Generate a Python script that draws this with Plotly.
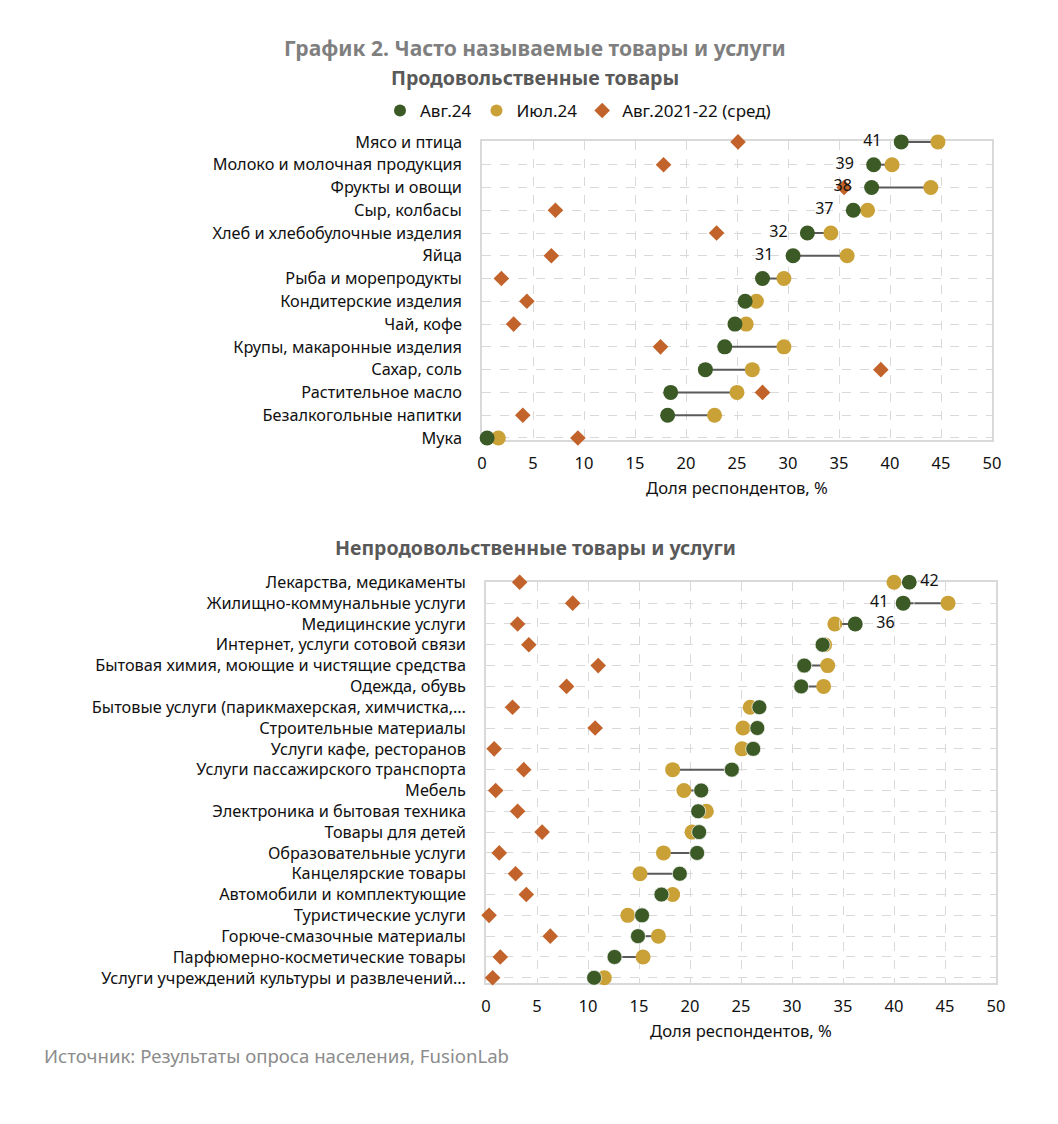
import plotly.graph_objects as go

# ---------- Data ----------
food_cats = ["Мясо и птица", "Молоко и молочная продукция", "Фрукты и овощи", "Сыр, колбасы",
             "Хлеб и хлебобулочные изделия", "Яйца", "Рыба и морепродукты", "Кондитерские изделия",
             "Чай, кофе", "Крупы, макаронные изделия", "Сахар, соль", "Растительное масло",
             "Безалкогольные напитки", "Мука"]
food_aug24 = [41.1, 38.4, 38.2, 36.4, 31.9, 30.5, 27.5, 25.8, 24.8, 23.8, 21.9, 18.5, 18.2, 0.5]
food_jul24 = [44.7, 40.2, 44.0, 37.8, 34.2, 35.8, 29.6, 26.9, 25.9, 29.6, 26.5, 25.0, 22.8, 1.6]
food_avg = [25.1, 17.8, 35.5, 7.2, 23.0, 6.8, 1.9, 4.4, 3.1, 17.5, 39.1, 27.5, 4.0, 9.4]
food_labels = ["41", "39", "38", "37", "32", "31", "", "", "", "", "", "", "", ""]

nonfood_cats = ["Лекарства, медикаменты", "Жилищно-коммунальные услуги", "Медицинские услуги",
                "Интернет, услуги сотовой связи", "Бытовая химия, моющие и чистящие средства",
                "Одежда, обувь", "Бытовые услуги (парикмахерская, химчистка,…",
                "Строительные материалы", "Услуги кафе, ресторанов", "Услуги пассажирского транспорта",
                "Мебель", "Электроника и бытовая техника", "Товары для детей", "Образовательные услуги",
                "Канцелярские товары", "Автомобили и комплектующие", "Туристические услуги",
                "Горюче-смазочные материалы", "Парфюмерно-косметические товары",
                "Услуги учреждений культуры и развлечений…"]
nonfood_aug24 = [41.5, 40.9, 36.2, 33.0, 31.2, 30.9, 26.8, 26.6, 26.2, 24.1, 21.1, 20.8, 20.9, 20.7,
                 19.0, 17.2, 15.3, 14.9, 12.6, 10.6]
nonfood_jul24 = [40.0, 45.3, 34.2, 33.2, 33.5, 33.1, 25.9, 25.2, 25.1, 18.3, 19.4, 21.6, 20.2, 17.4,
                 15.1, 18.3, 13.9, 16.9, 15.4, 11.6]
nonfood_avg = [3.3, 8.5, 3.1, 4.2, 11.0, 7.9, 2.6, 10.7, 0.8, 3.7, 0.95, 3.1, 5.5, 1.3, 2.9, 3.95,
               0.3, 6.3, 1.4, 0.65]
nonfood_labels = ["42", "41", "36"] + [""] * 17

series_names = ["Авг.24", "Июл.24", "Авг.2021-22 (сред)"]
x_ticks = [0, 5, 10, 15, 20, 25, 30, 35, 40, 45, 50]

# ---------- Styles ----------
GREEN = "#3b5a26"
YELLOW = "#c9a136"
ORANGE = "#c2632b"
CONN = "#5a5a5a"
GRID = "#d9d9d9"
FONT = "Noto Sans"

OFF = 8  # page body margin
W, H = 1058 - 2 * OFF, 1124 - 2 * OFF


def fx(px):
    return (px - OFF) / W


def fy(px):
    return 1 - (px - OFF) / H


fig = go.Figure()


def add_panel(cats, g, yv, d, labels, lpos, lsize, xa, ya, legend):
    cx, cy = [], []
    for c, a, b in zip(cats, g, yv):
        cx += [a, b, None]
        cy += [c, c, None]
    fig.add_trace(go.Scatter(x=cx, y=cy, mode="lines", line=dict(color=CONN, width=2),
                             showlegend=False, hoverinfo="skip", xaxis=xa, yaxis=ya,
                             cliponaxis=False))
    fig.add_trace(go.Scatter(x=d, y=cats, mode="markers", name=series_names[2],
                             marker=dict(symbol="diamond", size=12, color=ORANGE),
                             showlegend=legend, xaxis=xa, yaxis=ya, cliponaxis=False,
                             legendrank=3))
    fig.add_trace(go.Scatter(x=yv, y=cats, mode="markers", name=series_names[1],
                             marker=dict(symbol="circle", size=15, color=YELLOW),
                             showlegend=legend, xaxis=xa, yaxis=ya, cliponaxis=False,
                             legendrank=2))
    fig.add_trace(go.Scatter(x=g, y=cats, mode="markers", name=series_names[0],
                             marker=dict(symbol="circle", size=15, color=GREEN),
                             showlegend=legend, xaxis=xa, yaxis=ya, cliponaxis=False,
                             legendrank=1))
    fig.add_trace(go.Scatter(x=g, y=cats, mode="markers+text", text=labels, textposition=lpos,
                             marker=dict(size=lsize, color="rgba(0,0,0,0)"),
                             textfont=dict(size=16, color="#111111", family=FONT),
                             showlegend=False, hoverinfo="skip", xaxis=xa, yaxis=ya,
                             cliponaxis=False))


add_panel(food_cats, food_aug24, food_jul24, food_avg, food_labels, "middle left", 30,
          "x", "y", True)
add_panel(nonfood_cats, nonfood_aug24, nonfood_jul24, nonfood_avg, nonfood_labels,
          ["middle right", "middle left", "middle right"] + ["middle left"] * 17,
          [16, 22, 32] + [15] * 17, "x2", "y2", False)

xcommon = dict(range=[0, 50], tickvals=x_ticks, showgrid=True, gridcolor=GRID, griddash="dash",
               gridwidth=1, showline=True, mirror=True, linecolor=GRID, linewidth=1.5,
               zeroline=False, ticks="", tickfont=dict(size=16.5, color="#111111", family=FONT),
               ticklabelstandoff=7, fixedrange=True, automargin=False, layer="below traces")
ycommon = dict(type="category", showgrid=True, gridcolor=GRID, griddash="dash", gridwidth=1,
               showline=True, mirror=True, linecolor=GRID, linewidth=1.5, ticks="",
               tickfont=dict(size=16.3, color="#111111", family=FONT), ticklabelstandoff=15,
               fixedrange=True, automargin=False, layer="below traces")

fig.update_layout(
    width=W, height=H, margin=dict(l=0, r=0, t=0, b=0, autoexpand=False),
    paper_bgcolor="white", plot_bgcolor="white",
    font=dict(family=FONT, color="#111111"),
    xaxis=dict(xcommon, domain=[fx(482), fx(992)], anchor="y",
               title=dict(text="Доля респондентов, %", font=dict(size=16.6, family=FONT),
                          standoff=10)),
    yaxis=dict(ycommon, domain=[fy(440), fy(141)], anchor="x",
               categoryorder="array", categoryarray=food_cats,
               range=[len(food_cats) - 1 + 0.09, -0.04]),
    xaxis2=dict(xcommon, domain=[fx(486), fx(996)], anchor="y2",
                title=dict(text="Доля респондентов, %", font=dict(size=16.6, family=FONT),
                           standoff=10)),
    yaxis2=dict(ycommon, domain=[fy(983), fy(581.7)], anchor="x2",
                categoryorder="array", categoryarray=nonfood_cats,
                range=[len(nonfood_cats) - 1 + 0.25, -0.03]),
    legend=dict(orientation="h", x=fx(380), y=fy(111), xanchor="left", yanchor="middle",
                font=dict(size=17, family=FONT, color="#111111"), itemsizing="constant",
                traceorder="normal", bgcolor="rgba(0,0,0,0)"),
    showlegend=True,
)

fig.add_annotation(text="<b>График 2. Часто называемые товары и услуги</b>", x=fx(535),
                   y=fy(47), xref="paper", yref="paper", showarrow=False,
                   font=dict(size=21.1, color="#7f7f7f", family=FONT), xanchor="center",
                   yanchor="middle")
fig.add_annotation(text="<b>Продовольственные товары</b>", x=fx(535), y=fy(77),
                   xref="paper", yref="paper", showarrow=False,
                   font=dict(size=19.6, color="#595959", family=FONT), xanchor="center",
                   yanchor="middle")
fig.add_annotation(text="<b>Непродовольственные товары и услуги</b>", x=fx(535), y=fy(547),
                   xref="paper", yref="paper", showarrow=False,
                   font=dict(size=19.5, color="#595959", family=FONT), xanchor="center",
                   yanchor="middle")
fig.add_annotation(text="Источник: Результаты опроса населения, FusionLab", x=fx(42),
                   y=fy(1055), xref="paper", yref="paper", showarrow=False,
                   font=dict(size=18.6, color="#8c8c8c", family=FONT), xanchor="left",
                   yanchor="middle")

fig.write_html("out.html")
